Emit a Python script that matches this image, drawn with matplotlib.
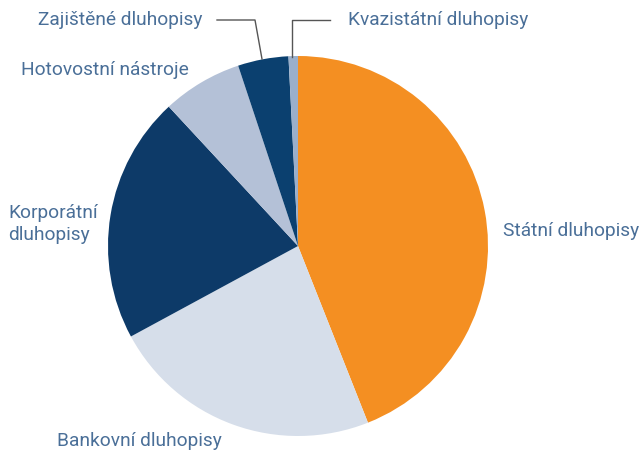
import matplotlib.pyplot as plt

# data
labels = ["Státní dluhopisy", "Bankovní dluhopisy", "Korporátní\ndluhopisy",
          "Hotovostní nástroje", "Zajištěné dluhopisy", "Kvazistátní dluhopisy"]
shares = [44.0, 23.1, 21.0, 6.8, 4.3, 0.8]
colors = ["#F48F22", "#D6DEEA", "#0D3A68", "#B4C1D7", "#0B406F", "#9AAFCB"]

txt_color = "#4A6F98"
plt.rcParams['font.family'] = ['Roboto', 'DejaVu Sans']

fig = plt.figure(figsize=(6.41, 4.52), dpi=100)
ax = fig.add_axes([0, 0, 1, 1])

# pie centre (298, 247) in image pixels -> y flipped
cx, cy, r = 298, 452 - 247, 190
ax.pie(shares, colors=colors, startangle=90, counterclock=False,
       center=(cx, cy), radius=r, wedgeprops=dict(linewidth=0))
ax.set_xlim(0, 641)
ax.set_ylim(0, 452)
ax.set_aspect('equal')
ax.axis('off')

fs = 13.8
kw = dict(color=txt_color, fontsize=fs, fontweight='normal', va='center')
ax.text(503, 452 - 231, labels[0], ha='left', **kw)
ax.text(57, 452 - 441, labels[1], ha='left', **kw)
ax.text(8, 452 - 224, labels[2], ha='left', linespacing=1.25, **kw)
ax.text(21, 452 - 70, labels[3], ha='left', **kw)
ax.text(38, 452 - 20, labels[4], ha='left', **kw)
ax.text(348, 452 - 20, labels[5], ha='left', **kw)

# leader lines
ax.plot([217, 255, 262], [452 - 21, 452 - 21, 452 - 60], color="#555555", lw=1)
ax.plot([330, 292, 292], [452 - 21, 452 - 21, 452 - 58], color="#555555", lw=1)

fig.savefig("out.png", dpi=100)
